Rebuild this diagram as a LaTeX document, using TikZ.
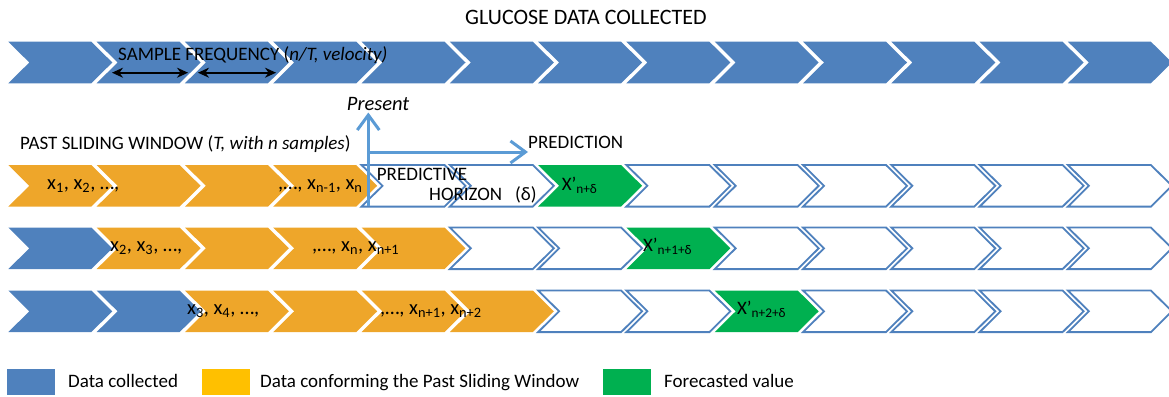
\documentclass[tikz,border=0pt]{standalone}
\usepackage{fontspec}
\setmainfont{Carlito}
\usetikzlibrary{arrows.meta}
\definecolor{cblue}{HTML}{4F81BD}
\definecolor{corange}{HTML}{EEA62A}
\definecolor{cgreen}{HTML}{00B050}
\definecolor{cyellow}{HTML}{FFC000}
\definecolor{carrow}{HTML}{5B9BD5}
\tikzset{
  chev/.pic={\path[pic actions] (0,0) -- (83,0) -- (104,20.8) -- (83,41.6) -- (0,41.6) -- (21,20.8) -- cycle;},
  blu/.style={fill=cblue,draw=none},
  ora/.style={fill=corange,draw=none},
  grn/.style={fill=cgreen,draw=none},
  outl/.style={fill=white,draw=cblue,line width=1.8pt,line join=miter},
  lbl/.style={inner sep=0pt,anchor=base west,font=\fontsize{19}{22}\selectfont},
  xlbl/.style={inner sep=0pt,anchor=base west,font=\fontsize{20.5}{24}\selectfont},
  ttl/.style={inner sep=0pt,anchor=base,font=\fontsize{22}{26}\selectfont},
  bluearrow/.style={draw=carrow,line width=3pt,-{Straight Barb[length=15pt,width=22pt,line width=3pt]}},
  blackarrow/.style={draw=black,line width=1.6pt,{Stealth[length=11pt,width=10pt]}-{Stealth[length=11pt,width=10pt]}},
  legsq/.style={minimum width=48pt,minimum height=26pt,inner sep=0pt,anchor=north west}
}
\begin{document}
\begin{tikzpicture}[x=1pt,y=-1pt]
\useasboundingbox (0,0) rectangle (1169,396);
% row 1
\foreach \k in {0,...,12}{\pic[blu] at ({8.3+88.3*\k},41.7) {chev};}
% row 2
\foreach \k/\s in {0/ora,1/ora,2/ora,3/ora,4/outl,5/outl,6/grn,7/outl,8/outl,9/outl,10/outl,11/outl,12/outl}{\pic[\s] at ({8.3+88.3*\k},165) {chev};}
% row 3
\foreach \k/\s in {0/blu,1/ora,2/ora,3/ora,4/ora,5/outl,6/outl,7/grn,8/outl,9/outl,10/outl,11/outl,12/outl}{\pic[\s] at ({8.3+88.3*\k},227.5) {chev};}
% row 4
\foreach \k/\s in {0/blu,1/blu,2/ora,3/ora,4/ora,5/ora,6/outl,7/outl,8/grn,9/outl,10/outl,11/outl,12/outl}{\pic[\s] at ({8.3+88.3*\k},290.5) {chev};}

% title and labels
\node[ttl] (title) at (586,25) {GLUCOSE DATA COLLECTED};
\node[lbl] (freq) at (118,60.3) {SAMPLE FREQUENCY (\textit{n/T, velocity)}};
\node[xlbl] (present) at (346.7,110) {\textit{Present}};
\node[lbl] (past) at (20,149.3) {PAST SLIDING WINDOW (\textit{T, with n samples})};
\node[lbl] (pred) at (528,148.3) {PREDICTION};

% arrows
\coordinate (fa1) at (112,72.7);
\coordinate (fb1) at (188,72.7);
\coordinate (fa2) at (198,72.7);
\coordinate (fb2) at (276,72.7);
\draw[blackarrow] (fa1) -- (fb1);
\draw[blackarrow] (fa2) -- (fb2);
\coordinate (pbase) at (368.3,206);
\coordinate (ptip) at (368.3,112.5);
\coordinate (hstart) at (368.3,152);
\coordinate (htip) at (528,152);
\draw[bluearrow] (pbase) -- (ptip);
\draw[bluearrow] (hstart) -- (htip);

\node[lbl] (ph1) at (376.7,180) {PREDICTIVE};
\node[lbl] (ph2) at (429,200) {HORIZON};
\node[lbl] (ph3) at (515,200) {(δ)};

% row texts
\node[xlbl] (r2a) at (47,189.5) {x\textsubscript{1}, x\textsubscript{2}, …,};
\node[xlbl] (r2b) at (278,189.5) {,…, x\textsubscript{n-1}, x\textsubscript{n}};
\node[lbl] (r2c) at (561.7,190) {X’\textsubscript{n+δ}};
\node[xlbl] (r3a) at (110,251.5) {x\textsubscript{2}, x\textsubscript{3}, …,};
\node[xlbl] (r3b) at (312,251.5) {,…, x\textsubscript{n}, x\textsubscript{n+1}};
\node[lbl] (r3c) at (643,251.7) {X’\textsubscript{n+1+δ}};
\node[xlbl] (r4a) at (187,314.3) {x\textsubscript{3}, x\textsubscript{4}, …,};
\node[xlbl] (r4b) at (380,314.3) {,…, x\textsubscript{n+1}, x\textsubscript{n+2}};
\node[lbl] (r4c) at (737,314) {X’\textsubscript{n+2+δ}};

% legend
\node[legsq,fill=cblue] (l1) at (7,369) {};
\node[lbl] (t1) at (68,387.7) {Data collected};
\node[legsq,fill=cyellow] (l2) at (202,369) {};
\node[lbl] (t2) at (260,387.7) {Data conforming the Past Sliding Window};
\node[legsq,fill=cgreen] (l3) at (603,369) {};
\node[lbl] (t3) at (664,387.7) {Forecasted value};
\end{tikzpicture}
\end{document}
